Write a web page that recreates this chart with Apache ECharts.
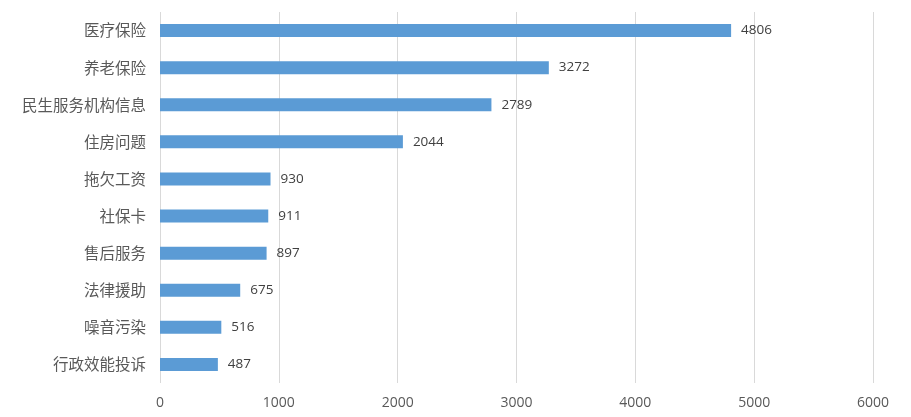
<!DOCTYPE html>
<html lang="zh">
<head>
<meta charset="UTF-8">
<title>投诉分类统计</title>
<script src="https://cdn.jsdelivr.net/npm/echarts@6/dist/echarts.min.js"></script>
<style>
html, body { margin: 0; padding: 0; background: #fff; }
#chart { width: 911px; height: 417px; }
</style>
</head>
<body>
<div id="chart"></div>
<script>
// top to bottom as in the picture
const categories = ['医疗保险', '养老保险', '民生服务机构信息', '住房问题', '拖欠工资', '社保卡', '售后服务', '法律援助', '噪音污染', '行政效能投诉'];
const counts = [4806, 3272, 2789, 2044, 930, 911, 897, 675, 516, 487];
const xTicks = [0, 1000, 2000, 3000, 4000, 5000, 6000];

const font = '"Noto Sans CJK SC", "Microsoft YaHei", sans-serif';
const numFont = '"Open Sans", "Noto Sans", sans-serif';
const chart = echarts.init(document.getElementById('chart'));

chart.setOption({
animation: false,
textStyle: { fontFamily: font },
grid: { left: 160, right: 38, top: 12, bottom: 34, containLabel: false },
xAxis: {
type: 'value',
min: xTicks[0],
max: xTicks[xTicks.length - 1],
interval: 1000,
axisLine: { show: false },
axisTick: { show: false },
axisLabel: { color: '#595959', fontSize: 14, margin: 13, fontFamily: numFont, formatter: v => String(v) },
splitLine: { lineStyle: { color: '#d9d9d9', width: 1 } }
},
yAxis: {
type: 'category',
inverse: true,
data: categories,
axisLine: { show: false },
axisTick: { show: false },
axisLabel: { color: '#595959', fontSize: 15.5, margin: 14 }
},
series: [{
type: 'bar',
data: counts,
barWidth: 13,
itemStyle: { color: '#5b9bd5' },
label: {
show: true,
position: 'right',
distance: 10,
color: '#404040',
fontSize: 13.5,
fontFamily: numFont
}
}]
});
</script>
</body>
</html>
